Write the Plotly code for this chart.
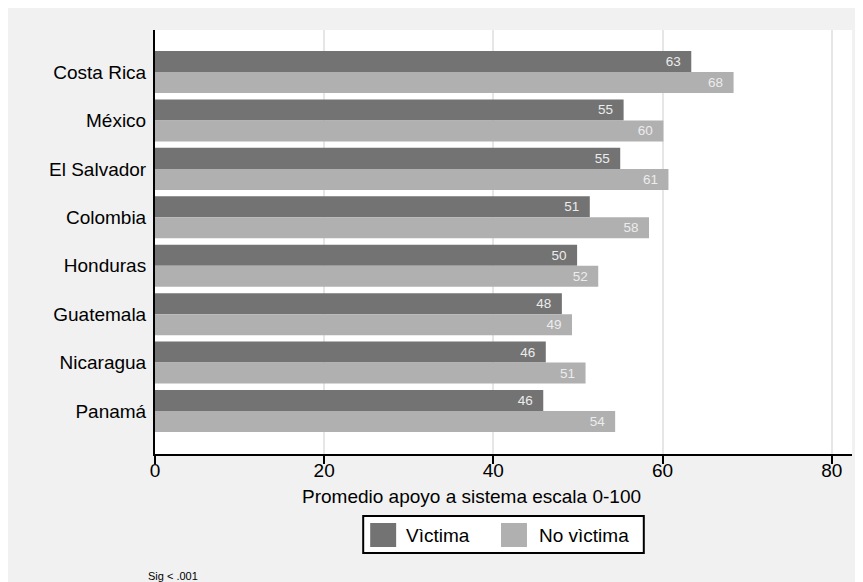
import plotly.graph_objects as go

# ---- data ----
countries = ["Costa Rica", "México", "El Salvador", "Colombia",
             "Honduras", "Guatemala", "Nicaragua", "Panamá"]
victima = [63.4, 55.4, 55.0, 51.4, 49.9, 48.1, 46.2, 45.9]
no_victima = [68.4, 60.1, 60.7, 58.4, 52.4, 49.3, 50.9, 54.4]
series_names = ["Vìctima", "No vìctima"]
x_ticks = [0, 20, 40, 60, 80]
x_title = "Promedio apoyo a sistema escala 0-100"
note = "Sig < .001"

DARK = "#737373"
LIGHT = "#b0b0b0"
BG = "#f1f1f1"
FONT = "Liberation Sans, Arial, Helvetica, sans-serif"

OFF = 8  # page body margin
W, H = 863, 582
L, R, T, B = 154.5 - OFF, 852.5 - OFF, 30 - OFF, 454 - OFF
PW, PH = R - L, B - T


def px(xp):
    return (xp - OFF - L) / PW


def py(yp):
    return (B - (yp - OFF)) / PH


fig = go.Figure()
for name, vals, col in [(series_names[0], victima, DARK),
                        (series_names[1], no_victima, LIGHT)]:
    fig.add_trace(go.Bar(
        y=countries, x=vals, name=name, orientation="h",
        marker=dict(color=col, line=dict(width=0)),
        text=[f"{v:.0f}" for v in vals],
        texttemplate="%{text}\u00a0\u00a0",
        textposition="inside", insidetextanchor="end",
        textfont=dict(color="#ececec", size=13.5, family=FONT),
        showlegend=False, cliponaxis=False,
    ))

shapes = [
    # legend box
    dict(type="rect", xref="paper", yref="paper", x0=px(363), x1=px(644),
         y0=py(553), y1=py(516), fillcolor="white",
         line=dict(color="black", width=2)),
    dict(type="rect", xref="paper", yref="paper", x0=px(370), x1=px(396),
         y0=py(547), y1=py(523), fillcolor=DARK, line=dict(width=0)),
    dict(type="rect", xref="paper", yref="paper", x0=px(501), x1=px(527),
         y0=py(547), y1=py(523), fillcolor=LIGHT, line=dict(width=0)),
]

annotations = [
    dict(xref="paper", yref="paper", x=px(404), y=py(535), text=series_names[0],
         showarrow=False, xanchor="left", yanchor="middle",
         font=dict(size=19, color="black", family=FONT)),
    dict(xref="paper", yref="paper", x=px(537), y=py(535), text=series_names[1],
         showarrow=False, xanchor="left", yanchor="middle",
         font=dict(size=19, color="black", family=FONT)),
    dict(xref="paper", yref="paper", x=px(145), y=py(576), text=note,
         showarrow=False, xanchor="left", yanchor="middle",
         font=dict(size=11, color="black", family=FONT)),
    dict(xref="paper", yref="paper", x=px(471), y=py(496), text=x_title,
         showarrow=False, xanchor="center", yanchor="middle",
         font=dict(size=19, color="black", family=FONT)),
]

fig.update_layout(
    width=W, height=H,
    margin=dict(l=L, r=W - R, t=T, b=H - B, pad=0),
    paper_bgcolor=BG, plot_bgcolor="white",
    barmode="group", bargap=0.132, bargroupgap=0,
    font=dict(family=FONT, size=19, color="black"),
    shapes=shapes, annotations=annotations,
    xaxis=dict(range=[0, 82.4], tickvals=x_ticks, showgrid=True,
               gridcolor="#e6e6e6", gridwidth=2, zeroline=False,
               showline=True, linecolor="black", linewidth=2,
               ticks="outside", ticklen=8, tickwidth=2, tickcolor="black",
               tickfont=dict(size=19), ticklabelstandoff=-10,
               automargin=False),
    yaxis=dict(categoryorder="array", categoryarray=countries,
               range=[7.888, -0.868], showgrid=False, zeroline=False,
               showline=True, linecolor="black", linewidth=2,
               ticks="", ticklabelstandoff=3, tickfont=dict(size=19),
               automargin=False),
)

fig.write_html("out.html")
